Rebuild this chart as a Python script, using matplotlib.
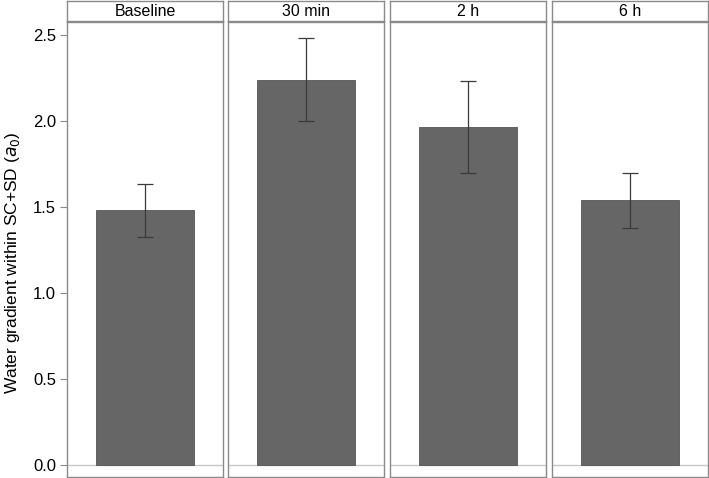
import matplotlib
matplotlib.use("Agg")
import matplotlib.pyplot as plt

plt.rcParams['font.family'] = ['Liberation Sans', 'DejaVu Sans']

categories = ["Baseline", "30 min", "2 h", "6 h"]
means = [1.48, 2.24, 1.965, 1.54]
err_low = [1.325, 2.00, 1.695, 1.38]
err_high = [1.635, 2.485, 2.23, 1.70]
yticks = [0.0, 0.5, 1.0, 1.5, 2.0, 2.5]

W, H = 709, 478
fig = plt.figure(figsize=(W / 100, H / 100), dpi=100)

panel_left = [67, 228, 390, 552]
panel_w = 156
frame_col = '#8a8a8a'

for i, (cat, m, lo, hi) in enumerate(zip(categories, means, err_low, err_high)):
    x0 = panel_left[i]
    ax = fig.add_axes([x0 / W, 1 / H, panel_w / W, 455 / H])
    ax.set_xlim(-0.5, 0.5)
    ax.set_ylim(-0.07, 2.576)
    ax.axhline(0, color='#c8c8c8', lw=1.0, zorder=0)
    ax.bar([0], [m], width=0.63, color='#666666', edgecolor='#555555', lw=0.6, zorder=2)
    ax.errorbar([0], [m], yerr=[[m - lo], [hi - m]], fmt='none', ecolor='#3a3a3a',
                elinewidth=0.9, capsize=6, capthick=0.9, zorder=3)
    for s in ax.spines.values():
        s.set_color(frame_col)
        s.set_linewidth(1.0)
    ax.set_xticks([])
    if i == 0:
        ax.set_yticks(yticks)
        ax.set_yticklabels([f"{v:.1f}" for v in yticks], fontsize=12)
        ax.tick_params(axis='y', length=5, color=frame_col, pad=3)
        ax.set_ylabel("Water gradient within SC+SD ($\\it{a}_0$)", fontsize=12.5)
        ax.yaxis.set_label_coords(-0.29, 0.47)
    else:
        ax.set_yticks([])
    # strip
    sax = fig.add_axes([x0 / W, (H - 21) / H, panel_w / W, 20 / H])
    sax.set_xticks([])
    sax.set_yticks([])
    for s in sax.spines.values():
        s.set_color(frame_col)
        s.set_linewidth(1.0)
    sax.text(0.5, 0.45, cat, ha='center', va='center', fontsize=11.5, transform=sax.transAxes)

fig.savefig("out.png", dpi=100)
